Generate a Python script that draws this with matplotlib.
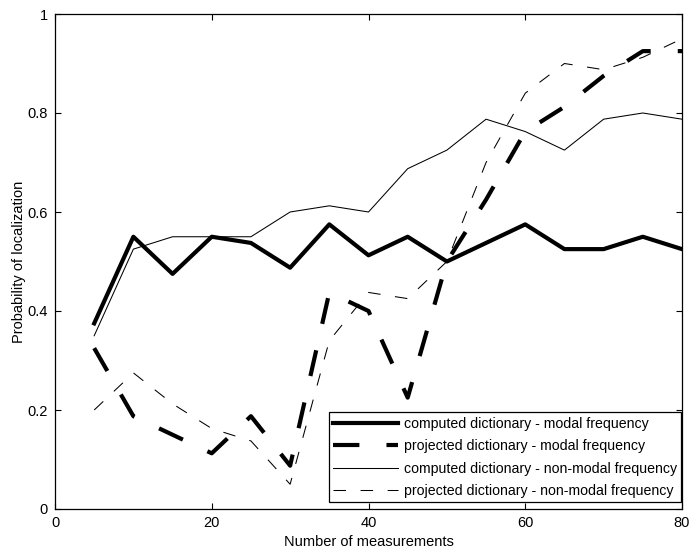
import matplotlib
matplotlib.use('Agg')
import matplotlib.pyplot as plt

plt.rcParams['font.family'] = ['Liberation Sans', 'DejaVu Sans']
plt.rcParams['lines.scale_dashes'] = False

# number of measurements
n_meas = [5, 10, 15, 20, 25, 30, 35, 40, 45, 50, 55, 60, 65, 70, 75, 80]

computed_modal = [0.375, 0.55, 0.475, 0.55, 0.5375, 0.4875, 0.575, 0.5125,
                  0.55, 0.5, 0.5375, 0.575, 0.525, 0.525, 0.55, 0.525]
projected_modal = [0.325, 0.1875, 0.15, 0.1125, 0.1875, 0.0875, 0.4375, 0.4,
                   0.225, 0.5, 0.625, 0.7625, 0.8125, 0.875, 0.925, 0.925]
computed_nonmodal = [0.35, 0.525, 0.55, 0.55, 0.55, 0.6, 0.6125, 0.6,
                     0.6875, 0.725, 0.7875, 0.7625, 0.725, 0.7875, 0.8, 0.7875]
projected_nonmodal = [0.2, 0.275, 0.2125, 0.1625, 0.1375, 0.05, 0.34, 0.4375,
                      0.425, 0.5, 0.7, 0.84, 0.9, 0.8875, 0.9125, 0.95]

labels = ['computed dictionary - modal frequency',
          'projected dictionary - modal frequency',
          'computed dictionary - non-modal frequency',
          'projected dictionary - non-modal frequency']

fig = plt.figure(figsize=(6.89, 5.5), dpi=100)
ax = fig.add_axes([55 / 689, 41 / 550, 627 / 689, 495 / 550])

thick = 3.0
thin = 0.75
ax.plot(n_meas, computed_modal, color='black', linewidth=thick, linestyle='-', label=labels[0])
ax.plot(n_meas, projected_modal, color='black', linewidth=thick, linestyle=(0, (19, 19.5)), label=labels[1])
ax.plot(n_meas, computed_nonmodal, color='black', linewidth=thin, linestyle='-', label=labels[2])
ax.plot(n_meas, projected_nonmodal, color='black', linewidth=thin, linestyle=(0, (9, 10.5)), label=labels[3])

ax.set_xlim(0, 80)
ax.set_ylim(0, 1)
ax.set_xticks([0, 20, 40, 60, 80])
ax.set_yticks([0, 0.2, 0.4, 0.6, 0.8, 1])
ax.set_yticklabels(['0', '0.2', '0.4', '0.6', '0.8', '1'])
ax.tick_params(direction='in', length=4.5, width=0.8, top=True, right=True, labelsize=10.5, pad=5)
for s in ax.spines.values():
    s.set_linewidth(0.9)

ax.set_xlabel('Number of measurements', fontsize=10.5, labelpad=4)
ax.set_ylabel('Probability of localization', fontsize=10.5, labelpad=1)

leg = ax.legend(loc='upper right', bbox_to_anchor=(0.999, 0.195), borderaxespad=0,
                fontsize=10.2, handlelength=4.6, handletextpad=0.4, labelspacing=0.6,
                borderpad=0.3, fancybox=False, framealpha=1, edgecolor='black')
leg.get_frame().set_linewidth(0.9)

fig.savefig('out.png', dpi=100)
